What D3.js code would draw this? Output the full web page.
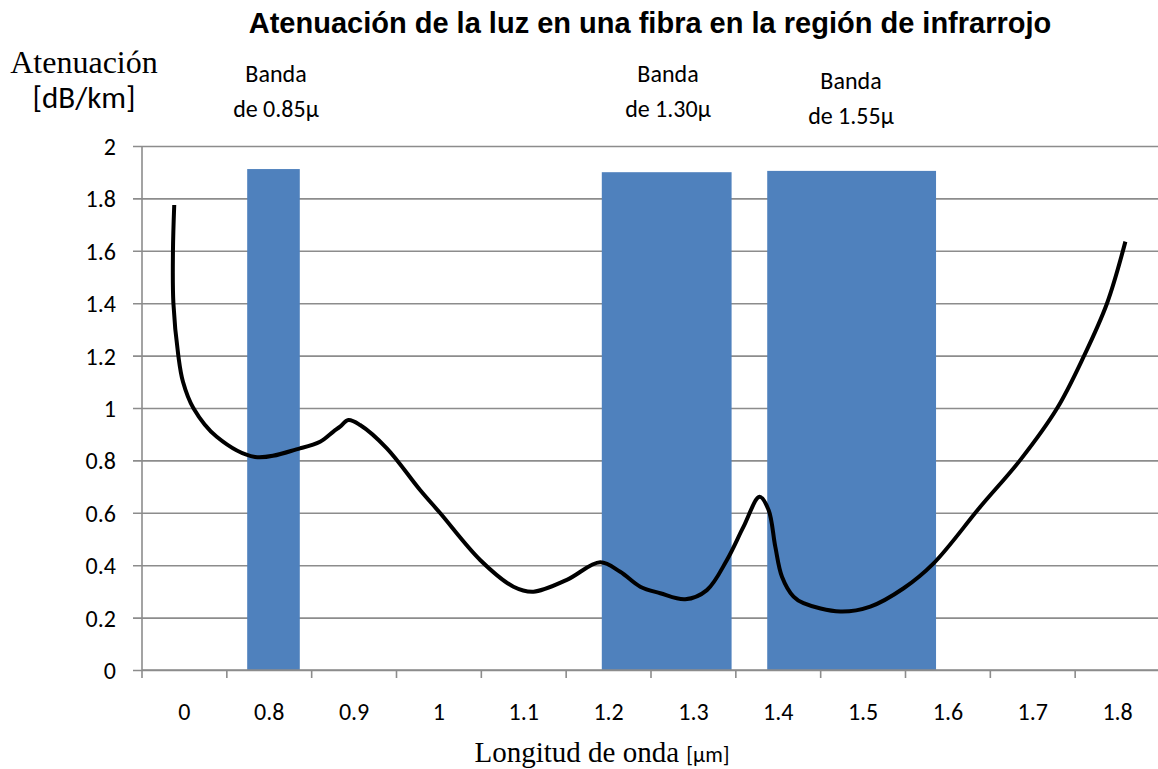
<!DOCTYPE html>
<html><head><meta charset="utf-8">
<script src="https://cdn.jsdelivr.net/npm/d3@7/dist/d3.min.js"></script>
<style>body{margin:0;background:#fff}svg{display:block}</style>
</head><body>
<svg id="c" width="1158" height="769"></svg>
<script>
// ---- data ----
const categories = ["0","0.8","0.9","1","1.1","1.2","1.3","1.4","1.5","1.6","1.7","1.8"];
const yTicks = [0,0.2,0.4,0.6,0.8,1,1.2,1.4,1.6,1.8,2];
// band rectangles: [start wavelength, end wavelength, height dB/km]
const bandStart = [0.774, 1.192, 1.387];
const bandEnd   = [0.836, 1.345, 1.586];
const bandValue = [1.912, 1.900, 1.905];
const bandLabel1 = ["Banda","Banda","Banda"];
const bandLabel2 = ["de 0.85\u03bc","de 1.30\u03bc","de 1.55\u03bc"];
// attenuation curve (wavelength position, dB/km)
const curveX = [0.688,0.6865,0.687,0.6928,0.6983,0.7105,0.7381,0.7833,0.8363,0.8599,0.8756,0.8835,0.8933,0.9071,0.9386,0.9778,1.0014,1.0486,1.0879,1.1114,1.1508,1.1901,1.2137,1.2373,1.2609,1.2903,1.3159,1.3395,1.3591,1.378,1.3886,1.3965,1.4044,1.418,1.4298,1.4731,1.5085,1.5478,1.5831,1.6382,1.6854,1.7287,1.76,1.7876,1.8092];
const curveY = [1.775,1.60,1.40,1.20,1.10,1.0,0.89,0.813,0.846,0.871,0.91,0.929,0.954,0.935,0.846,0.687,0.599,0.42,0.318,0.299,0.344,0.411,0.375,0.318,0.293,0.27,0.305,0.42,0.547,0.661,0.611,0.471,0.356,0.28,0.255,0.223,0.242,0.312,0.407,0.623,0.802,0.999,1.196,1.40,1.635];

// ---- layout ----
const svg = d3.select("#c");
const L = 142, R = 1160, T = 146, B = 670;
const xb = d3.scaleBand().domain(categories).range([L, R]).paddingInner(0).paddingOuter(0);
const xl = d3.scaleLinear().domain([0.65, 1.85]).range([L, R]);
const y = d3.scaleLinear().domain([0, 2]).range([B, T]);
const grid = "#8c8c8c";
const calibri = "Carlito, Lato, 'Open Sans', sans-serif";
const serif = "'Liberation Serif', 'Times New Roman', serif";

// gridlines + y axis
const ya = svg.append("g").attr("transform", `translate(${L},0)`)
  .call(d3.axisLeft(y).tickValues(yTicks).tickSize(9).tickFormat(d => d3.format("")(d)));
ya.select(".domain").remove();
ya.selectAll(".tick line").attr("stroke", grid).attr("stroke-width", 1.6).attr("x1", -9).attr("x2", 1158 - L);
ya.selectAll(".tick text").attr("x", -26).attr("dy", "0.35em")
  .style("font-family", calibri).style("font-size", "24px").attr("fill", "#000");
svg.append("line").attr("x1", L).attr("x2", L).attr("y1", T).attr("y2", B)
  .attr("stroke", grid).attr("stroke-width", 1.6);

// bands
svg.append("g").selectAll("rect").data(bandStart).join("rect")
  .attr("x", (d,i) => xl(d)).attr("width", (d,i) => xl(bandEnd[i]) - xl(d))
  .attr("y", (d,i) => y(bandValue[i])).attr("height", (d,i) => B - y(bandValue[i]))
  .attr("fill", "#4F81BD");

// x axis
svg.append("line").attr("x1", L).attr("x2", 1158).attr("y1", B).attr("y2", B)
  .attr("stroke", grid).attr("stroke-width", 1.6);
const bounds = categories.map(c => xb(c)).concat([R]);
svg.append("g").selectAll("line").data(bounds).join("line")
  .attr("x1", d => d).attr("x2", d => d).attr("y1", B).attr("y2", B + 8)
  .attr("stroke", grid).attr("stroke-width", 1.6);
svg.append("g").selectAll("text").data(categories).join("text")
  .attr("x", d => xb(d) + xb.bandwidth() / 2).attr("y", 720)
  .attr("text-anchor", "middle").style("font-family", calibri).style("font-size", "24px")
  .text(d => d);

// curve
const line = d3.line().x(d => xl(d[0])).y(d => y(d[1])).curve(d3.curveCatmullRom.alpha(0.5));
svg.append("path").datum(curveX.map((v,i) => [v, curveY[i]]))
  .attr("d", line).attr("fill", "none").attr("stroke", "#000").attr("stroke-width", 4)
  .attr("stroke-linejoin", "round");

// band labels
const lblX = [276, 668, 851];
const lblY = [82, 82, 89];
const lg = svg.append("g").style("font-family", calibri).style("font-size", "24px").attr("text-anchor", "middle");
lg.selectAll("text.a").data(bandLabel1).join("text").attr("class","a")
  .attr("x", (d,i) => lblX[i]).attr("y", (d,i) => lblY[i]).text(d => d);
lg.selectAll("text.b").data(bandLabel2).join("text").attr("class","b")
  .attr("x", (d,i) => lblX[i]).attr("y", (d,i) => lblY[i] + 35).text(d => d);

// titles
svg.append("text").attr("x", 650).attr("y", 33).attr("text-anchor", "middle")
  .style("font-family", "'Liberation Sans', Arial, sans-serif").style("font-weight", "bold").style("font-size", "29px")
  .text("Atenuación de la luz en una fibra en la región de infrarrojo");
svg.append("text").attr("x", 84).attr("y", 73).attr("text-anchor", "middle")
  .style("font-family", serif).style("font-size", "32px")
  .text("Atenuación");
svg.append("text").attr("x", 84).attr("y", 108).attr("text-anchor", "middle")
  .style("font-family", calibri).style("font-size", "31px")
  .text("[dB/km]");
const xt = svg.append("text").attr("x", 602).attr("y", 762).attr("text-anchor", "middle");
xt.append("tspan").style("font-family", serif).style("font-size", "29px").text("Longitud de onda ");
xt.append("tspan").style("font-family", calibri).style("font-size", "22px").text("[\u03bcm]");
</script>
</body></html>
